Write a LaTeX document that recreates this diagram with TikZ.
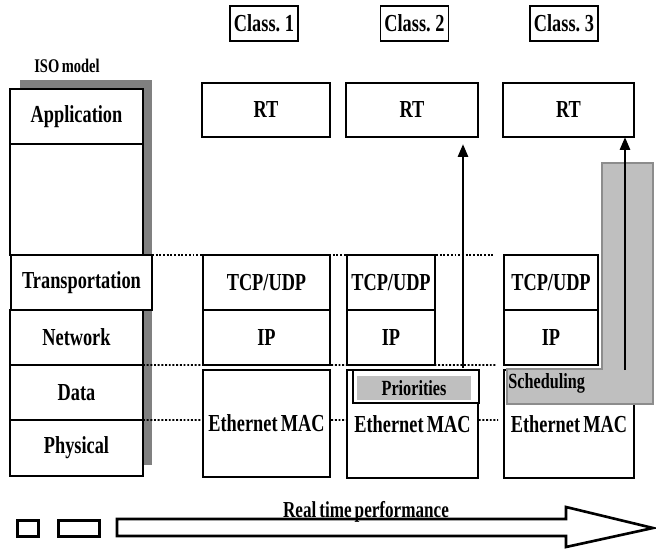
\documentclass[tikz,border=0pt]{standalone}
\usepackage{fontspec}
\setmainfont{Liberation Serif}[FakeStretch=0.75,WordSpace=0.7]
\usetikzlibrary{arrows.meta}

\newcommand\lbl{\fontsize{13.9}{15}\selectfont\bfseries}
\newcommand\isofont{\fontsize{11}{12}\selectfont\bfseries}
\newcommand\tagfont{\fontsize{12.3}{13}\selectfont\bfseries}

\tikzset{
  stackbox/.style={draw, fill=white, anchor=north west, inner sep=0pt, outer sep=0pt, line width=0.8pt, font=\lbl},
  classbox/.style={draw, inner sep=0pt, minimum width=1.36cm, minimum height=0.7cm, line width=0.8pt, font=\lbl},
  level/.style={densely dotted, line width=1.1pt},
  flow/.style={-{Triangle[length=0.26cm,width=0.2cm]}, line width=1.6pt},
}

\begin{document}
\begin{tikzpicture}[x=0.02cm,y=-0.02cm]
\useasboundingbox (0,0) rectangle (656,548);

% ISO model stack
\fill[black!50] (20,80) rectangle (152,465);
\node[font=\isofont] (iso) at (67,66) {ISO model};
\node[stackbox,minimum width=2.66cm,minimum height=1.1cm] (app) at (10,89) {Application};
\node[stackbox,minimum width=2.66cm,minimum height=2.22cm] (upper) at (10,144) {};
\node[stackbox,minimum width=2.82cm,minimum height=1.1cm] (trans) at (11,255) {Transportation};
\node[stackbox,minimum width=2.66cm,minimum height=1.1cm] (net) at (10,310) {Network};
\node[stackbox,minimum width=2.66cm,minimum height=1.1cm] (data) at (10,365) {Data};
\node[stackbox,minimum width=2.66cm,minimum height=1.12cm] (phys) at (10,420) {Physical};

% layer levels
\coordinate (lv1) at (494,255);
\coordinate (lv2) at (497,365);
\coordinate (lv3) at (498,420);
\draw[level] (trans.north east) -- (lv1);
\draw[level] (net.south east) -- (lv2);
\draw[level] (data.south east) -- (lv3);

% class headers
\node[classbox] (cls1) at (264,23.5) {Class. 1};
\node[classbox] (cls2) at (414.5,23.5) {Class. 2};
\node[classbox] (cls3) at (564,23.5) {Class. 3};

% class 1
\node[stackbox,minimum width=2.56cm,minimum height=1.08cm] (rt1) at (202,83) {RT};
\node[stackbox,minimum width=2.54cm,minimum height=1.1cm] (tcp1) at (203,255) {TCP/UDP};
\node[stackbox,minimum width=2.54cm,minimum height=1.1cm] (ip1) at (203,310) {IP};
\node[stackbox,minimum width=2.54cm,minimum height=2.14cm] (mac1) at (203,370) {Ethernet MAC};

% class 2
\node[stackbox,minimum width=2.64cm,minimum height=1.08cm] (rt2) at (346,83) {RT};
\node[stackbox,minimum width=1.76cm,minimum height=1.1cm] (tcp2) at (347,255) {TCP/UDP};
\node[stackbox,minimum width=1.76cm,minimum height=1.1cm] (ip2) at (347,310) {IP};
\node[stackbox,minimum width=2.62cm,minimum height=2.16cm] (mac2) at (347,370) {\raisebox{-6pt}{Ethernet MAC}};
\node[stackbox,minimum width=2.52cm,minimum height=0.66cm] (prio) at (353,370) {};
\node[fill=black!25,inner sep=0pt,minimum width=2.28cm,minimum height=0.48cm,font=\tagfont] (priotag) at (414,388) {Priorities};

% class 3
\node[stackbox,minimum width=2.62cm,minimum height=1.08cm] (rt3) at (503,83) {RT};
\node[stackbox,minimum width=1.88cm,minimum height=1.1cm] (tcp3) at (504,255) {TCP/UDP};
\node[stackbox,minimum width=1.88cm,minimum height=1.1cm] (ip3) at (504,310) {IP};
\node[stackbox,minimum width=2.6cm,minimum height=2.16cm] (mac3) at (504,370) {\raisebox{-6pt}{Ethernet MAC}};
\filldraw[fill=black!25,draw=black!45,line width=0.6pt] (602,163) -- (653,163) -- (653,404) -- (507,404) -- (507,369) -- (602,369) -- cycle;
\node[anchor=west,inner sep=0pt,font=\tagfont] (sched) at (508,383) {Scheduling};

% real time paths
\coordinate (up2) at (463,368);
\coordinate (up3) at (625,370);
\draw[flow,shorten >=0.14cm] (up2) -- (up2 |- rt2.south);
\draw[flow] (up3) -- (up3 |- rt3.south);

% performance scale
\node[draw,line width=1.5pt,anchor=north west,inner sep=0pt,minimum width=0.42cm,minimum height=0.32cm] (sq1) at (16,519) {};
\node[draw,line width=1.5pt,anchor=north west,inner sep=0pt,minimum width=0.82cm,minimum height=0.32cm] (sq2) at (57,519) {};
\draw[line width=1.5pt] (117,519) -- (566,519) -- (566,507) -- (653,528) -- (566,547) -- (566,536) -- (117,536) -- cycle;
\node[font=\fontsize{13}{14}\selectfont\bfseries,anchor=base] (perf) at (366,517) {Real time performance};
\end{tikzpicture}
\end{document}
